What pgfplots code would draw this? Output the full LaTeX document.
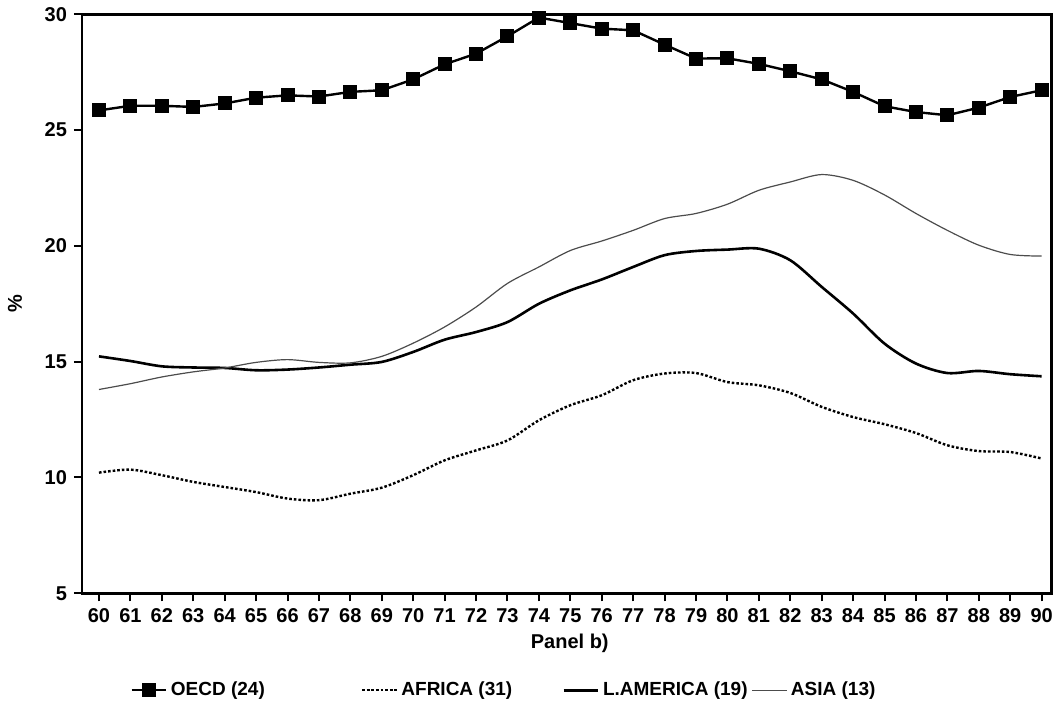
\documentclass[border=0pt]{standalone}
\usepackage{pgfplots}
\pgfplotsset{compat=1.18}
\usepackage{fontspec}
\setmainfont{Liberation Sans}
\begin{document}
\begin{tikzpicture}
\useasboundingbox (-41pt,-58.85pt) rectangle (487pt,296.65pt);
\begin{axis}[
  scale only axis,
  width=484.85pt, height=289.5pt,
  xmin=59.46, xmax=90.32,
  ymin=5, ymax=30,
  xtick={60,...,90},
  ytick={5,10,15,20,25,30},
  tick align=outside,
  major tick length=4pt,
  tick style={line width=1pt, black},
  xtick pos=bottom, ytick pos=left,
  axis line style={line width=1.3pt},
  /pgf/number format/assume math mode=true,
  ticklabel style={font=\fontsize{10}{12}\selectfont\bfseries},
  xlabel={Panel b)},
  xlabel style={at={(axis description cs:0.503,-0.0858)}, anchor=center, font=\fontsize{10}{12}\selectfont\bfseries},
  ylabel={\%},
  ylabel style={at={(axis description cs:-0.0691,0.501)}, anchor=center, font=\fontsize{10}{12}\selectfont\bfseries},
  legend columns=4,
  legend style={at={(axis description cs:0.0495,-0.1675)}, anchor=west, draw=none, inner sep=0pt,
    font=\fontsize{9.5}{11}\selectfont\bfseries,
    /tikz/column 2/.style={column sep=46pt},
    /tikz/column 4/.style={column sep=23pt},
    /tikz/column 6/.style={column sep=0pt}},
  legend cell align=left,
]
\addplot[black, line width=1.2pt, mark=square*, mark size=2.9pt] coordinates {
(60,25.85) (61,26.05) (62,26.05) (63,26.0) (64,26.15) (65,26.4) (66,26.5) (67,26.45) (68,26.65) (69,26.72)
(70,27.19) (71,27.84) (72,28.3) (73,29.05) (74,29.86) (75,29.62) (76,29.38) (77,29.31) (78,28.69) (79,28.09)
(80,28.1) (81,27.86) (82,27.54) (83,27.19) (84,26.65) (85,26.03) (86,25.78) (87,25.64) (88,25.97) (89,26.43) (90,26.72)
};
\addlegendentry{OECD (24)}
\addplot[black, line width=1.2pt, dash pattern=on 1.3pt off 1pt, smooth] coordinates {
(60,10.21) (61,10.34) (62,10.1) (63,9.81) (64,9.59) (65,9.37) (66,9.09) (67,9.02) (68,9.3) (69,9.56)
(70,10.1) (71,10.74) (72,11.17) (73,11.6) (74,12.47) (75,13.12) (76,13.55) (77,14.2) (78,14.49) (79,14.51)
(80,14.12) (81,13.98) (82,13.65) (83,13.05) (84,12.61) (85,12.3) (86,11.92) (87,11.39) (88,11.14) (89,11.1) (90,10.82)
};
\addlegendentry{AFRICA (31)}
\addplot[black, line width=1.3pt, smooth] coordinates {
(60,15.23) (61,15.03) (62,14.8) (63,14.75) (64,14.73) (65,14.63) (66,14.66) (67,14.75) (68,14.87) (69,14.99)
(70,15.42) (71,15.95) (72,16.28) (73,16.71) (74,17.5) (75,18.08) (76,18.55) (77,19.09) (78,19.6) (79,19.78)
(80,19.84) (81,19.88) (82,19.38) (83,18.23) (84,17.08) (85,15.78) (86,14.92) (87,14.51) (88,14.6) (89,14.46) (90,14.37)
};
\addlegendentry{L.AMERICA (19)}
\addplot[black!70, line width=0.6pt, smooth] coordinates {
(60,13.8) (61,14.05) (62,14.34) (63,14.56) (64,14.73) (65,14.97) (66,15.09) (67,14.97) (68,14.95) (69,15.23)
(70,15.8) (71,16.5) (72,17.36) (73,18.38) (74,19.09) (75,19.8) (76,20.21) (77,20.67) (78,21.18) (79,21.4)
(80,21.8) (81,22.4) (82,22.76) (83,23.08) (84,22.83) (85,22.2) (86,21.4) (87,20.67) (88,20.03) (89,19.63) (90,19.56)
};
\addlegendentry{ASIA (13)}
\end{axis}
\end{tikzpicture}
\end{document}
